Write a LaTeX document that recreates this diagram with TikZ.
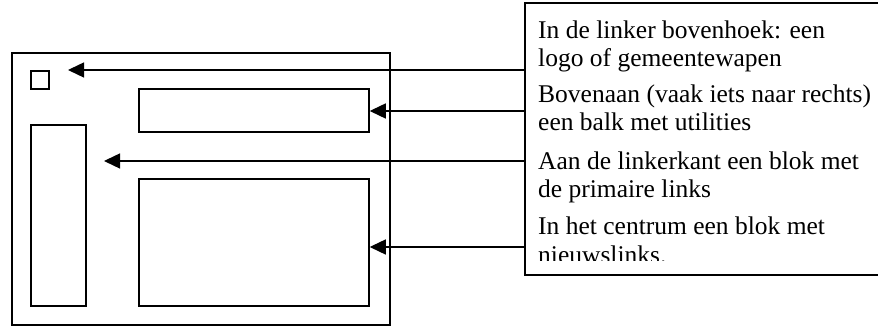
\documentclass[tikz,border=0pt]{standalone}
\usepackage{fontspec}
\setmainfont{Liberation Serif}
\usetikzlibrary{arrows.meta}
\begin{document}
\begin{tikzpicture}[x=1pt,y=-1pt,
  frame/.style={draw=black,line width=1.8pt},
  blockbox/.style={draw=black,line width=1.5pt},
  pointer/.style={draw=black,line width=1.4pt,-{Triangle[length=16pt,width=15pt]}},
  txt/.style={anchor=base west,inner sep=0pt,font=\fontsize{25.5}{29}\selectfont}]
\useasboundingbox (0,0) rectangle (878,328);
% page mock-up
\draw[frame] (12,53) rectangle (390,325);
\node[blockbox,minimum width=18pt,minimum height=18pt,inner sep=0pt] (logo) at (40,80) {};
\node[blockbox,minimum width=230pt,minimum height=43pt,inner sep=0pt] (util) at (254,110.5) {};
\node[blockbox,minimum width=55pt,minimum height=181pt,inner sep=0pt] (nav) at (58.5,215.5) {};
\node[blockbox,minimum width=230pt,minimum height=127pt,inner sep=0pt] (news) at (254,242.5) {};
% legend box
\draw[frame] (525,3) rectangle (882,275);
\coordinate (s1) at (525,70);
\coordinate (s2) at (525,111);
\coordinate (s3) at (525,161);
\coordinate (s4) at (525,247);
\coordinate (t1) at (68,70);
\coordinate (t3) at (104,161);
\draw[pointer] (s1) -- (t1);
\draw[pointer] (s2) -- (util.east |- s2);
\draw[pointer] (s3) -- (t3);
\draw[pointer] (s4) -- (news.east |- s4);
\begin{scope}
\clip (525,3) rectangle (878,261);
\node[txt] (l1) at (538,39) {In de linker bovenhoek: een};
\node[txt] (l2) at (538,67) {logo of gemeentewapen};
\node[txt] (l3) at (538,103) {Bovenaan (vaak iets naar rechts)};
\node[txt] (l4) at (538,131) {een balk met utilities};
\node[txt] (l5) at (538,170) {Aan de linkerkant een blok met};
\node[txt] (l6) at (538,198) {de primaire links};
\node[txt] (l7) at (538,235) {In het centrum een blok met};
\node[txt] (l8) at (538,264) {nieuwslinks.};
\end{scope}
\end{tikzpicture}
\end{document}
